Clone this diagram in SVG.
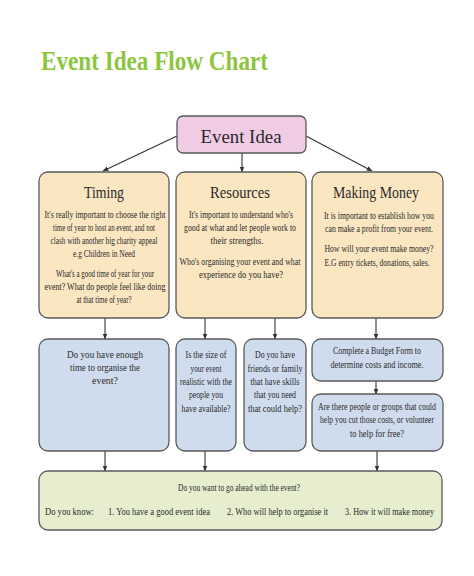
<svg xmlns="http://www.w3.org/2000/svg" width="474" height="576" viewBox="0 0 474 576">
<defs>
<marker id="ah" viewBox="0 0 10 10" refX="9" refY="5" markerWidth="6" markerHeight="6" orient="auto" markerUnits="userSpaceOnUse">
<path d="M0,1 L10,5 L0,9 Z" fill="#333"/>
</marker>
</defs>
<style>
.box{stroke:#5a5a5a;stroke-width:1.3}
.tan{fill:#fbe6c2}
.blue{fill:#cfdcee}
.green{fill:#e6eecf}
.pink{fill:#f0cbe4}
text{font-family:"Liberation Serif","DejaVu Serif",serif;fill:#2a2a2a}
.t{font-size:9.5px;text-anchor:middle}
.tl{font-size:9.5px}
.h{font-size:17px;text-anchor:middle}
.c line{stroke:#333;stroke-width:1.1;marker-end:url(#ah)}
</style>
<rect width="474" height="576" fill="#ffffff"/>
<text x="41" y="70" font-size="28" font-weight="bold" style="fill:#8cc63f" textLength="227" lengthAdjust="spacingAndGlyphs">Event Idea Flow Chart</text>

<g class="c" id="connectors">
<line x1="177" y1="136" x2="103" y2="171"/>
<line x1="242" y1="153" x2="242" y2="172"/>
<line x1="306" y1="136" x2="372" y2="171"/>
<line x1="105" y1="318" x2="105" y2="339"/>
<line x1="205" y1="318" x2="205" y2="339"/>
<line x1="275" y1="318" x2="275" y2="339"/>
<line x1="376" y1="318" x2="376" y2="339"/>
<line x1="376" y1="381" x2="376" y2="394"/>
<line x1="105" y1="451" x2="105" y2="471"/>
<line x1="205" y1="451" x2="205" y2="471"/>
<line x1="377" y1="451" x2="377" y2="471"/>
</g>

<g id="event-idea">
<rect class="box pink" x="177" y="116" width="129" height="37" rx="6"/>
<text x="241" y="143" font-size="19" text-anchor="middle" textLength="81" lengthAdjust="spacingAndGlyphs">Event Idea</text>
</g>

<g id="timing">
<rect class="box tan" x="39" y="172" width="130" height="146" rx="9"/>
<text class="h" x="104" y="198" textLength="40" lengthAdjust="spacingAndGlyphs">Timing</text>
<text class="t" x="105" y="218" textLength="121" lengthAdjust="spacingAndGlyphs">It's really important to choose the right</text>
<text class="t" x="104" y="231" textLength="102" lengthAdjust="spacingAndGlyphs">time of year to host an event, and not</text>
<text class="t" x="104" y="244" textLength="107" lengthAdjust="spacingAndGlyphs">clash with another big charity appeal</text>
<text class="t" x="104" y="257" textLength="62" lengthAdjust="spacingAndGlyphs">e.g Children in Need</text>
<text class="t" x="105" y="277" textLength="98" lengthAdjust="spacingAndGlyphs">What's a good time of year for your</text>
<text class="t" x="105" y="290" textLength="121" lengthAdjust="spacingAndGlyphs">event? What do people feel like doing</text>
<text class="t" x="104" y="303" textLength="55" lengthAdjust="spacingAndGlyphs">at that time of year?</text>
</g>

<g id="resources">
<rect class="box tan" x="176" y="172" width="130" height="146" rx="9"/>
<text class="h" x="240" y="198" textLength="60" lengthAdjust="spacingAndGlyphs">Resources</text>
<text class="t" x="241" y="218" textLength="104" lengthAdjust="spacingAndGlyphs">It's important to understand who's</text>
<text class="t" x="240" y="231" textLength="112" lengthAdjust="spacingAndGlyphs">good at what and let people work to</text>
<text class="t" x="237" y="244" textLength="53" lengthAdjust="spacingAndGlyphs">their strengths.</text>
<text class="t" x="240" y="265" textLength="121" lengthAdjust="spacingAndGlyphs">Who's organising your event and what</text>
<text class="t" x="241" y="278" textLength="84" lengthAdjust="spacingAndGlyphs">experience do you have?</text>
</g>

<g id="making-money">
<rect class="box tan" x="312" y="172" width="131" height="146" rx="9"/>
<text class="h" x="376" y="198" textLength="86" lengthAdjust="spacingAndGlyphs">Making Money</text>
<text class="t" x="379" y="219" textLength="110" lengthAdjust="spacingAndGlyphs">It is important to establish how you</text>
<text class="t" x="379" y="232" textLength="108" lengthAdjust="spacingAndGlyphs">can make a profit from your event.</text>
<text class="t" x="379" y="252" textLength="109" lengthAdjust="spacingAndGlyphs">How will your event make money?</text>
<text class="t" x="377" y="266" textLength="105" lengthAdjust="spacingAndGlyphs">E.G entry tickets, donations, sales.</text>
</g>

<g id="q-time">
<rect class="box blue" x="39" y="339" width="130" height="112" rx="9"/>
<text class="t" x="105" y="358" textLength="76" lengthAdjust="spacingAndGlyphs">Do you have enough</text>
<text class="t" x="105" y="371" textLength="70" lengthAdjust="spacingAndGlyphs">time to organise the</text>
<text class="t" x="105" y="384" textLength="26" lengthAdjust="spacingAndGlyphs">event?</text>
</g>

<g id="q-size">
<rect class="box blue" x="176" y="339" width="60" height="112" rx="9"/>
<text class="t" x="206" y="358" textLength="41" lengthAdjust="spacingAndGlyphs">Is the size of</text>
<text class="t" x="206" y="372" textLength="31" lengthAdjust="spacingAndGlyphs">your event</text>
<text class="t" x="206" y="385" textLength="52" lengthAdjust="spacingAndGlyphs">realistic with the</text>
<text class="t" x="206" y="398" textLength="34" lengthAdjust="spacingAndGlyphs">people you</text>
<text class="t" x="206" y="412" textLength="49" lengthAdjust="spacingAndGlyphs">have available?</text>
</g>

<g id="q-friends">
<rect class="box blue" x="244" y="339" width="62" height="112" rx="9"/>
<text class="t" x="275" y="358" textLength="40" lengthAdjust="spacingAndGlyphs">Do you have</text>
<text class="t" x="275" y="372" textLength="55" lengthAdjust="spacingAndGlyphs">friends or family</text>
<text class="t" x="275" y="385" textLength="49" lengthAdjust="spacingAndGlyphs">that have skills</text>
<text class="t" x="275" y="398" textLength="42" lengthAdjust="spacingAndGlyphs">that you need</text>
<text class="t" x="275" y="412" textLength="54" lengthAdjust="spacingAndGlyphs">that could help?</text>
</g>

<g id="budget">
<rect class="box blue" x="312" y="339" width="131" height="42" rx="9"/>
<text class="t" x="377" y="354" textLength="88" lengthAdjust="spacingAndGlyphs">Complete a Budget Form to</text>
<text class="t" x="377" y="368" textLength="93" lengthAdjust="spacingAndGlyphs">determine costs and income.</text>
</g>

<g id="cut-costs">
<rect class="box blue" x="312" y="394" width="131" height="57" rx="9"/>
<text class="t" x="377" y="410" textLength="118" lengthAdjust="spacingAndGlyphs">Are there people or groups that could</text>
<text class="t" x="377" y="423" textLength="114" lengthAdjust="spacingAndGlyphs">help you cut those costs, or volunteer</text>
<text class="t" x="377" y="437" textLength="54" lengthAdjust="spacingAndGlyphs">to help for free?</text>
</g>

<g id="go-ahead">
<rect class="box green" x="39" y="471" width="403" height="59" rx="9"/>
<text class="t" x="239" y="491" textLength="122" lengthAdjust="spacingAndGlyphs">Do you want to go ahead with the event?</text>
<text class="tl" x="45" y="515" textLength="49" lengthAdjust="spacingAndGlyphs">Do you know:</text>
<text class="tl" x="108" y="515" textLength="102" lengthAdjust="spacingAndGlyphs">1. You have a good event idea</text>
<text class="tl" x="227" y="515" textLength="101" lengthAdjust="spacingAndGlyphs">2. Who will help to organise it</text>
<text class="tl" x="345" y="515" textLength="89" lengthAdjust="spacingAndGlyphs">3. How it will make money</text>
</g>
</svg>
